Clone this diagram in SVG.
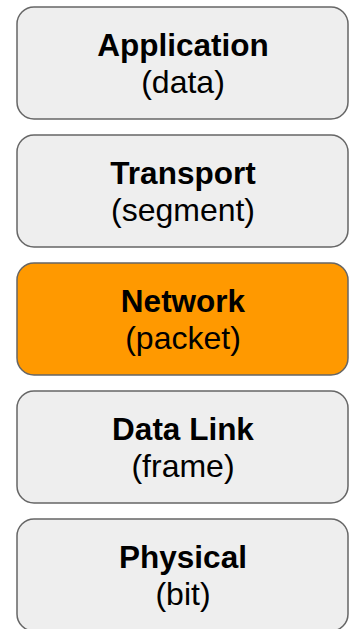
<svg xmlns="http://www.w3.org/2000/svg" width="350" height="629" viewBox="0 0 350 629">
  <style>
    .layer { fill: #eeeeee; stroke: #666666; stroke-width: 1.5; }
    .hot { fill: #ff9900; }
    .name { font-family: "Liberation Sans", Arial, sans-serif; font-size: 31.5px; font-weight: bold; fill: #000000; text-anchor: middle; }
    .unit { font-family: "Liberation Sans", Arial, sans-serif; font-size: 32px; fill: #000000; text-anchor: middle; }
  </style>
  <rect width="350" height="629" fill="#ffffff"/>
  <g id="application">
    <rect class="layer" x="17" y="7" width="331" height="112" rx="17"/>
    <text class="name" x="183" y="56">Application</text>
    <text class="unit" x="183" y="92.5">(data)</text>
  </g>
  <g id="transport">
    <rect class="layer" x="17" y="135" width="331" height="112" rx="17"/>
    <text class="name" x="183" y="184">Transport</text>
    <text class="unit" x="183" y="220.5">(segment)</text>
  </g>
  <g id="network">
    <rect class="layer hot" x="17" y="263" width="331" height="112" rx="17"/>
    <text class="name" x="183" y="312">Network</text>
    <text class="unit" x="183" y="348.5">(packet)</text>
  </g>
  <g id="data-link">
    <rect class="layer" x="17" y="391" width="331" height="112" rx="17"/>
    <text class="name" x="183" y="440">Data Link</text>
    <text class="unit" x="183" y="476.5">(frame)</text>
  </g>
  <g id="physical">
    <rect class="layer" x="17" y="519" width="331" height="112" rx="17"/>
    <text class="name" x="183" y="568">Physical</text>
    <text class="unit" x="183" y="604.5">(bit)</text>
  </g>
  <g id="connectors"></g>
</svg>
